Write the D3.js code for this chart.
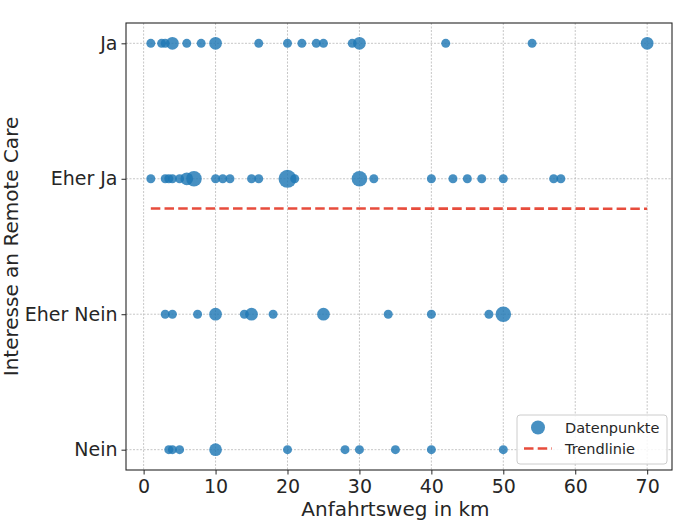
<!DOCTYPE html>
<html lang="de">
<head>
<meta charset="utf-8">
<title>Anfahrtsweg vs. Interesse an Remote Care</title>
<script src="https://cdn.jsdelivr.net/npm/d3@7"></script>
<style>
  body { margin: 0; background: #fff; }
  svg text { font-family: "DejaVu Sans", sans-serif; fill: #262626; }
  .grid line { stroke: #b8b8b8; stroke-width: 0.8; stroke-dasharray: 2,1.5; }
</style>
</head>
<body>
<script>
// categories (bottom to top)
const categories = ["Nein", "Eher Nein", "Eher Ja", "Ja"];

// distance in km per answer, with number of identical answers (marker size)
const jaKm      = [1, 2.5, 3, 4, 6, 8, 10, 16, 20, 22, 24, 25, 29, 30, 42, 54, 70];
const jaCount   = [1, 1, 1, 2, 1, 1, 2, 1, 1, 1, 1, 1, 1, 2, 1, 1, 2];
const eherJaKm    = [1, 3, 3.5, 4, 5, 6, 7, 10, 11, 12, 15, 16, 20, 21, 30, 32, 40, 43, 45, 47, 50, 57, 58];
const eherJaCount = [1, 1, 1, 1, 1, 2, 3, 1, 1, 1, 1, 1, 4, 1, 3, 1, 1, 1, 1, 1, 1, 1, 1];
const eherNeinKm    = [3, 4, 7.5, 10, 14, 15, 18, 25, 34, 40, 48, 50];
const eherNeinCount = [1, 1, 1, 2, 1, 2, 1, 2, 1, 1, 1, 3];
const neinKm    = [3.5, 4, 5, 10, 20, 28, 30, 35, 40, 50];
const neinCount = [1, 1, 1, 2, 1, 1, 1, 1, 1, 1];

// trend line end points (km, category value)
const trendKm = [1, 70];
const trendVal = [1.781, 1.779];

const xTicks = [0, 10, 20, 30, 40, 50, 60, 70];

const w = 674, h = 521;
const margin = {top: 23, right: 2, bottom: 51, left: 126};

const points = [];
[[neinKm, neinCount, 0], [eherNeinKm, eherNeinCount, 1],
 [eherJaKm, eherJaCount, 2], [jaKm, jaCount, 3]].forEach(([km, cnt, cat]) => {
  km.forEach((d, i) => points.push({km: d, n: cnt[i], cat: cat}));
});

const svg = d3.select("body").append("svg")
  .attr("width", w).attr("height", h);

const x = d3.scaleLinear()
  .domain([1 - 69 * 0.05, 70 + 69 * 0.05])
  .range([margin.left, w - margin.right]);
const y = d3.scaleLinear()
  .domain([-0.15, 3.15])
  .range([h - margin.bottom, margin.top]);
const r = d3.scaleSqrt().domain([0, 1]).range([0, 4.5]);

// grid
svg.append("g").attr("class", "grid")
  .selectAll("line.v").data(xTicks).join("line")
  .attr("x1", d => x(d)).attr("x2", d => x(d))
  .attr("y1", margin.top).attr("y2", h - margin.bottom);
svg.append("g").attr("class", "grid")
  .selectAll("line.h").data(d3.range(categories.length)).join("line")
  .attr("x1", margin.left).attr("x2", w - margin.right)
  .attr("y1", d => y(d)).attr("y2", d => y(d));

// points
svg.append("g").selectAll("circle").data(points).join("circle")
  .attr("cx", d => x(d.km))
  .attr("cy", d => y(d.cat))
  .attr("r", d => r(d.n))
  .attr("fill", "#1f77b4")
  .attr("fill-opacity", 0.82);

// trend
svg.append("path")
  .datum(trendKm.map((d, i) => [d, trendVal[i]]))
  .attr("d", d3.line().x(d => x(d[0])).y(d => y(d[1])))
  .attr("fill", "none")
  .attr("stroke", "#e74c3c")
  .attr("stroke-width", 2.6)
  .attr("stroke-dasharray", "9.5,4.2");

// frame
svg.append("rect")
  .attr("x", margin.left).attr("y", margin.top)
  .attr("width", w - margin.left - margin.right)
  .attr("height", h - margin.top - margin.bottom)
  .attr("fill", "none").attr("stroke", "#262626").attr("stroke-width", 1.1);

// axes
const xAxis = svg.append("g")
  .attr("transform", `translate(0,${h - margin.bottom})`)
  .call(d3.axisBottom(x).tickValues(xTicks).tickSize(4.5).tickPadding(5.5));
const yAxis = svg.append("g")
  .attr("transform", `translate(${margin.left},0)`)
  .call(d3.axisLeft(y).tickValues(d3.range(4)).tickFormat(d => categories[d]).tickSize(4.5).tickPadding(4));
[xAxis, yAxis].forEach(a => {
  a.select(".domain").remove();
  a.selectAll(".tick line").attr("stroke", "#262626").attr("stroke-width", 1);
  a.selectAll(".tick text").attr("fill", "#262626").style("font-size", "19px");
});

svg.append("text")
  .attr("x", x(35)).attr("y", 516)
  .attr("text-anchor", "middle")
  .style("font-size", "20px")
  .text("Anfahrtsweg in km");
svg.append("text")
  .attr("transform", `translate(17.5,${y(1.5)}) rotate(-90)`)
  .attr("text-anchor", "middle")
  .style("font-size", "20px")
  .text("Interesse an Remote Care");

// legend
const lg = svg.append("g").attr("transform", "translate(517,415)");
lg.append("rect")
  .attr("width", 150).attr("height", 49).attr("rx", 3)
  .attr("fill", "#fff").attr("fill-opacity", 0.85)
  .attr("stroke", "#cccccc");
lg.append("circle")
  .attr("cx", 21).attr("cy", 12.5).attr("r", 7)
  .attr("fill", "#1f77b4").attr("fill-opacity", 0.82);
lg.append("line")
  .attr("x1", 7).attr("x2", 35).attr("y1", 33.5).attr("y2", 33.5)
  .attr("stroke", "#e74c3c").attr("stroke-width", 2.6)
  .attr("stroke-dasharray", "9.5,4.2");
lg.append("text").attr("x", 48).attr("y", 17.5).style("font-size", "14.5px").text("Datenpunkte");
lg.append("text").attr("x", 48).attr("y", 39).style("font-size", "14.5px").text("Trendlinie");
</script>
</body>
</html>
